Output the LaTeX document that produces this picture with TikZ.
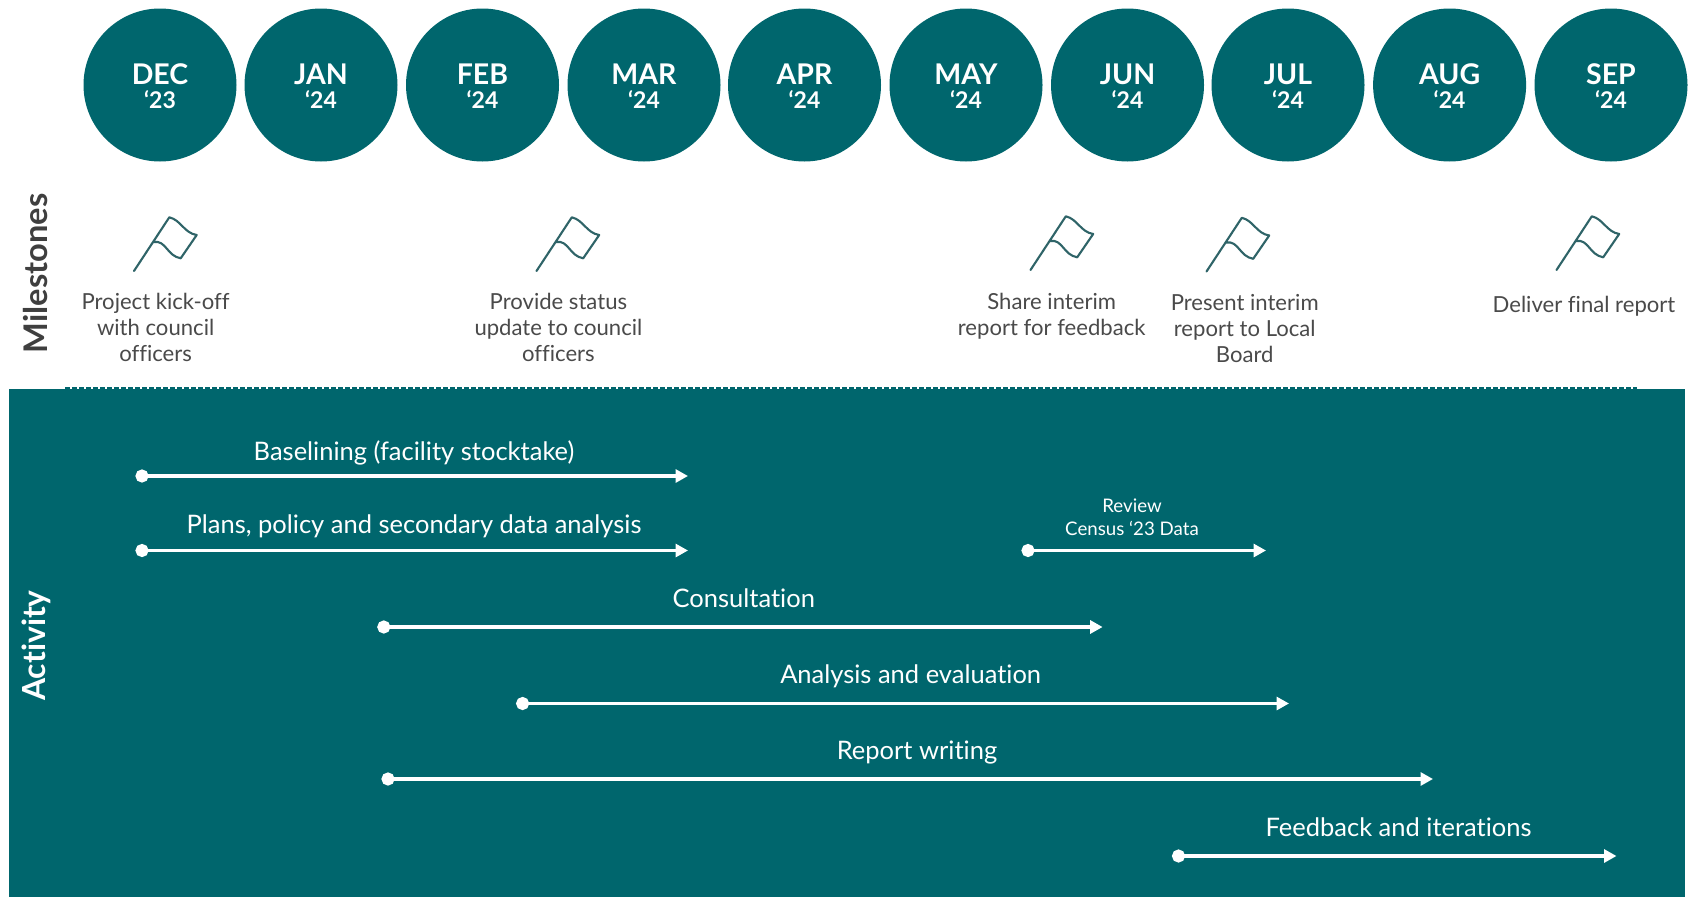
\documentclass[tikz,border=0pt]{standalone}
\usepackage{fontspec}
\setmainfont{Lato}[Ligatures=NoCommon]
\usetikzlibrary{arrows.meta}
\definecolor{teal1}{HTML}{00666D}
\definecolor{greytxt}{HTML}{4A4A4A}
\definecolor{flagc}{HTML}{2F6468}
\tikzset{
  x=1pt,y=-1pt,
  month/.style={circle,fill=teal1,text=white,minimum size=153pt,inner sep=0pt,align=center},
  mstext/.style={text=greytxt,align=center,font=\fontsize{22.1}{26}\selectfont,inner sep=0pt},
  actext/.style={text=white,align=center,font=\fontsize{25.5}{28}\selectfont,inner sep=0pt},
  smalltext/.style={text=white,align=center,font=\fontsize{18.7}{22.5}\selectfont,inner sep=0pt},
  bar/.style={draw=white,line width=3.8pt,{Circle[length=13pt]}-{Triangle[length=12.5pt,width=13pt]}},
  flagline/.style={draw=flagc,line width=2.1pt,line join=round,line cap=round},
  flag/.pic={
    \draw[flagline] (0,0) -- (35.3,-53.7)
      .. controls (47,-51) and (50,-38) .. (62.7,-36)
      -- (46.7,-12.7)
      .. controls (33,-15) and (32,-31) .. (20,-29);
  }
}
\begin{document}
\begin{tikzpicture}
\useasboundingbox (0,0) rectangle (1700,897);
\fill[white] (0,0) rectangle (1700,897);
% months
\foreach \i/\cx/\mo/\yr in {1/160/DEC/23,2/321/JAN/24,3/482.5/FEB/24,4/644/MAR/24,5/804.5/APR/24,6/966/MAY/24,7/1127.5/JUN/24,8/1288/JUL/24,9/1449.6/AUG/24,10/1611/SEP/24}{
  \node[month] (m\i) at (\cx,85) {};
  \node[text=white,font=\fontsize{28.5}{30}\selectfont\bfseries,inner sep=0pt] (mt\i) at (\cx,74) {\mo};
  \node[text=white,font=\fontsize{23}{24}\selectfont\bfseries,inner sep=0pt] (my\i) at (\cx,100) {‘\yr};
}
% flags
\foreach \fx/\fy in {134/271,536.5/271,1030.5/270,1206.5/271.5,1556.5/270}{
  \pic at (\fx,\fy) {flag};
}
% side label
\node[rotate=90,text=greytxt!85!black,font=\fontsize{32.6}{34}\selectfont\bfseries,inner sep=0pt] (lm) at (36,273.5) {Milestones};
% milestones text
\node[mstext] (t1) at (155.6,327) {Project kick-off\\with council\\officers};
\node[mstext] (t2) at (558.4,327) {Provide status\\update to council\\officers};
\node[mstext] (t3) at (1051.7,316) {Share interim\\report for feedback};
\node[mstext] (t4) at (1244.7,329) {Present interim\\report to Local\\Board};
\node[mstext] (t5) at (1584,306) {Deliver final report};
% activity panel
\fill[teal1] (9,389) rectangle (1685,897);
\draw[teal1,line width=1.5pt,dash pattern=on 5pt off 2pt] (65,388) -- (1637,388);
\node[rotate=90,text=white,font=\fontsize{31.8}{33}\selectfont\bfseries,inner sep=0pt] (la) at (36,645.5) {Activity};
% activity arrows
\coordinate (a1s) at (135.5,476);   \coordinate (a1e) at (688,476);
\coordinate (a2s) at (135.5,550.5); \coordinate (a2e) at (688,550.5);
\coordinate (a3s) at (1021.5,550.5); \coordinate (a3e) at (1266,550.5);
\coordinate (a4s) at (377.3,627);   \coordinate (a4e) at (1102.6,627);
\coordinate (a5s) at (516.1,703.5); \coordinate (a5e) at (1289,703.5);
\coordinate (a6s) at (381.5,779);   \coordinate (a6e) at (1433,779);
\coordinate (a7s) at (1172,856);  \coordinate (a7e) at (1616.5,856);
\foreach \k in {1,...,7}{\draw[bar] (a\k s) -- (a\k e);}
\node[actext] (b1) at (414,453) {Baselining (facility stocktake)};
\node[actext] (b2) at (414,526) {Plans, policy and secondary data analysis};
\node[smalltext] (b3) at (1132,517) {Review\\Census ‘23 Data};
\node[actext] (b4) at (743.8,598) {Consultation};
\node[actext] (b5) at (910.7,676.5) {Analysis and evaluation};
\node[actext] (b6) at (917,752.5) {Report writing};
\node[actext] (b7) at (1398.6,827) {Feedback and iterations};
\end{tikzpicture}
\end{document}
